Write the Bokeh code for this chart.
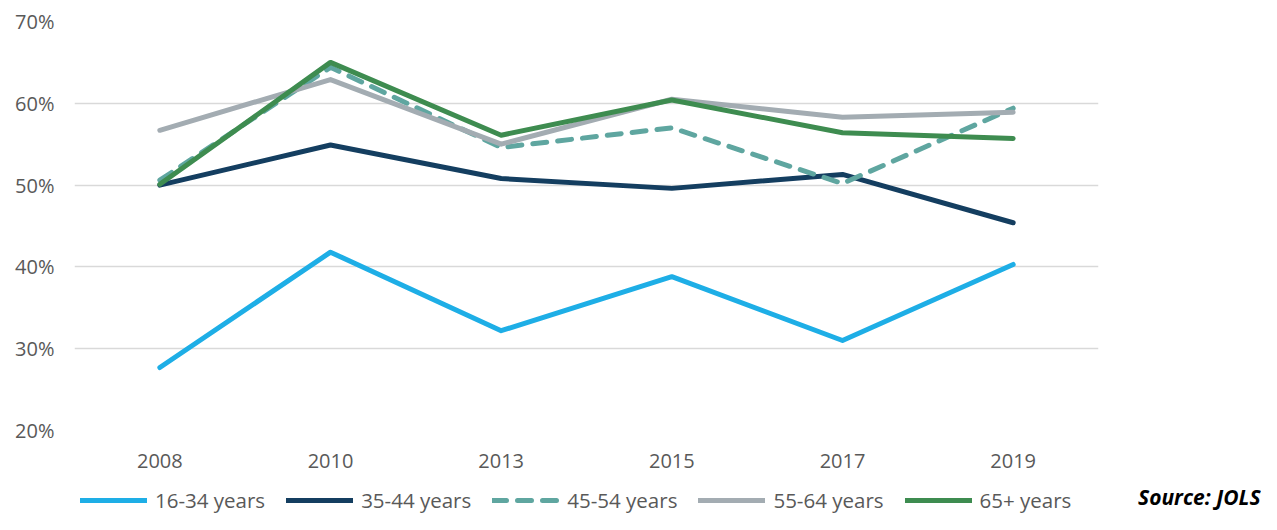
from bokeh.plotting import figure
from bokeh.layouts import column
from bokeh.models import FactorRange, Range1d, Legend, LegendItem, FixedTicker, CustomJSTickFormatter
from bokeh.embed import file_html
from bokeh.resources import INLINE

years = ["2008", "2010", "2013", "2015", "2017", "2019"]
series_names = ["16-34 years", "35-44 years", "45-54 years", "55-64 years", "65+ years"]
s16_34 = [27.7, 41.8, 32.2, 38.8, 31.0, 40.3]
s35_44 = [50.0, 54.9, 50.8, 49.6, 51.3, 45.4]
s45_54 = [50.6, 64.4, 54.6, 57.0, 50.2, 59.4]
s55_64 = [56.7, 62.9, 55.0, 60.5, 58.3, 58.9]
s65_up = [50.1, 65.0, 56.1, 60.4, 56.4, 55.7]
y_ticks = [20, 30, 40, 50, 60, 70]
source_text = "Source: JOLS"

colors = ["#1eaee6", "#143e60", "#5fa6a0", "#a3acb2", "#3e8c50"]
dashes = ["solid", "solid", "14 11", "solid", "solid"]
values = [s16_34, s35_44, s45_54, s55_64, s65_up]

FONT = "Open Sans"
GREY = "#595959"
LINE_KW = dict(line_width=5, line_cap="round", line_join="round")

# ---- main chart ----
p = figure(x_range=FactorRange(*years), y_range=Range1d(20, 70),
           width=1261, height=484, frame_width=1024, frame_height=409,
           min_border_left=74, min_border_top=21, min_border_right=163, min_border_bottom=54,
           output_backend="svg", toolbar_location=None)
p.outline_line_color = None
p.xgrid.grid_line_color = None
p.ygrid.grid_line_color = "#d9d9d9"
p.ygrid.grid_line_width = 1.5

p.yaxis.ticker = FixedTicker(ticks=y_ticks)
p.yaxis.formatter = CustomJSTickFormatter(code="return tick.toFixed(0) + '%';")
for ax in (p.xaxis[0], p.yaxis[0]):
    ax.axis_line_color = None
    ax.major_tick_line_color = None
    ax.minor_tick_line_color = None
    ax.major_tick_out = 0
    ax.major_tick_in = 0
    ax.major_label_text_font = FONT
    ax.major_label_text_font_size = "20px"
    ax.major_label_text_color = GREY
p.yaxis.major_label_standoff = 20
p.xaxis.major_label_standoff = 23

for vals, col, dash in zip(values, colors, dashes):
    p.line(years, vals, line_color=col, line_dash=dash, **LINE_KW)

# ---- legend strip (legend + source note) ----
lg = figure(x_range=Range1d(0, 1), y_range=Range1d(0, 1),
            width=1261, height=30, frame_width=1261, frame_height=30,
            min_border=0, x_axis_type=None, y_axis_type=None,
            output_backend="svg", toolbar_location=None)
lg.outline_line_color = None
lg.grid.grid_line_color = None

# legend carriers: single off-range points (draw nothing themselves), styled like the series
items = []
for name, col, dash in zip(series_names, colors, dashes):
    r = lg.line(x=[-5], y=[-5], line_color=col, line_dash=dash, **LINE_KW)
    items.append(LegendItem(label=name, renderers=[r]))

legend = Legend(items=items, orientation="horizontal", location=(80, 0),
                glyph_width=67, glyph_height=20, label_standoff=8, spacing=21,
                padding=0, margin=0, border_line_color=None, background_fill_alpha=0,
                label_text_font=FONT, label_text_font_size="20.5px", label_text_color=GREY)
lg.add_layout(legend, "center")

dummy = lg.line(x=[-5], y=[-5], line_alpha=0)
src_legend = Legend(items=[LegendItem(label=source_text, renderers=[dummy])],
                    location=(1138, 3), glyph_width=0, glyph_height=20, label_standoff=0,
                    padding=0, margin=0, border_line_color=None, background_fill_alpha=0,
                    label_text_font=FONT, label_text_font_size="21px",
                    label_text_font_style="bold italic", label_text_color="#000000")
lg.add_layout(src_legend, "center")

open("out.html", "w").write(file_html(column(p, lg, spacing=0), INLINE))
